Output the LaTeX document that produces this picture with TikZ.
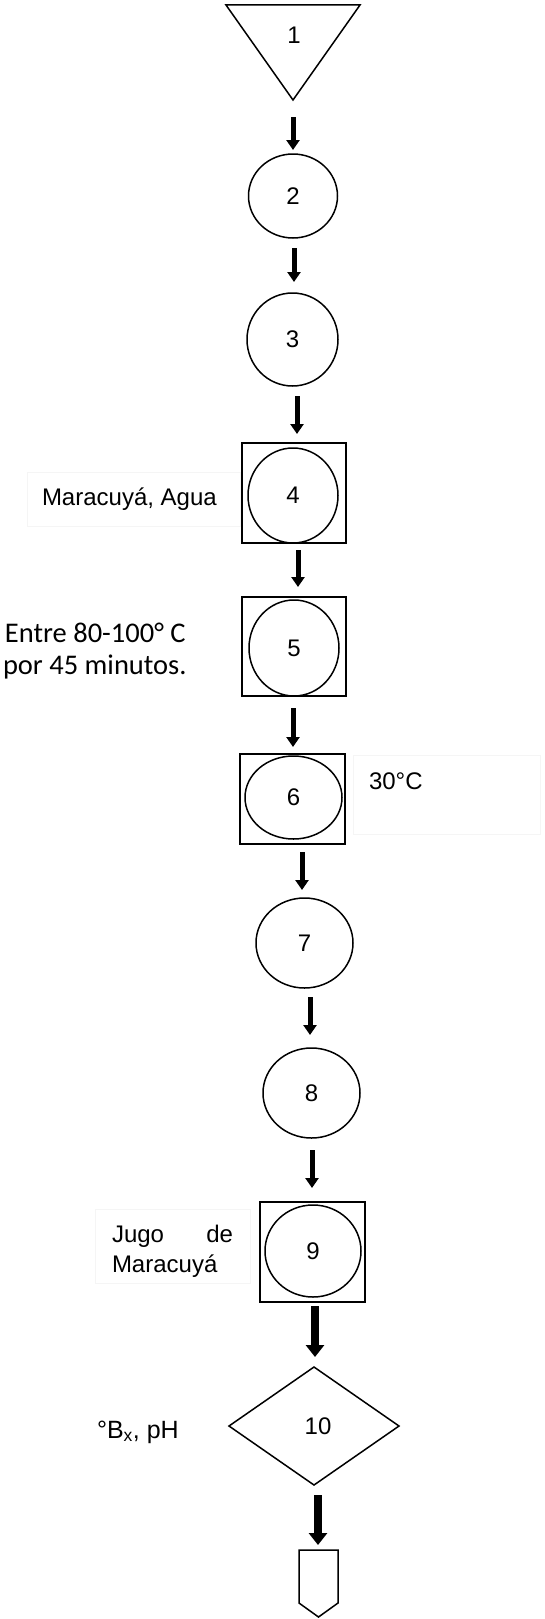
\documentclass[tikz,border=0pt]{standalone}
\usepackage{fontspec}
\setmainfont{Liberation Sans}
\newfontfamily\carlito{Carlito}
\usetikzlibrary{shapes.geometric,arrows.meta}
\begin{document}
\begin{tikzpicture}[x=1pt,y=-1pt,
  every node/.style={font=\fontsize{24}{28}\selectfont},
  oval/.style={ellipse,draw,line width=1.5pt,inner sep=0pt,outer sep=0pt},
  opbox/.style={rectangle,draw,line width=1.5pt,inner sep=0pt,outer sep=0pt},
  note/.style={inner sep=0pt,outer sep=0pt,anchor=base west},
  faint/.style={draw=black!4,line width=0.8pt},
  arr/.style={line width=5pt,-{Triangle[width=13pt,length=10pt]}},
  bigarr/.style={line width=8pt,-{Triangle[width=18pt,length=12pt]}}]
\useasboundingbox (0,0) rectangle (545,1619);

% storage triangle
\draw[line width=1.5pt,line join=miter] (226,5) -- (360,5) -- (293,100) -- cycle;
\coordinate (t1) at (293,100);
\node (n1) at (294,35) {1};

% plain operations
\node[oval,minimum width=89pt,minimum height=84pt] (n2) at (293,196) {2};
\node[oval,minimum width=91pt,minimum height=93pt] (n3) at (292.5,339.5) {3};

% combined operations (circle inside square)
\node[opbox,minimum width=104pt,minimum height=100pt] (b4) at (294,493) {};
\node[oval,minimum width=90pt,minimum height=95pt] (n4) at (293,495.5) {4};
\node[opbox,minimum width=104pt,minimum height=99pt] (b5) at (294,646.5) {};
\node[oval,minimum width=90pt,minimum height=96pt] (n5) at (294,648) {5};
\node[opbox,minimum width=105pt,minimum height=90pt] (b6) at (292.5,799) {};
\node[oval,minimum width=97pt,minimum height=83pt] (n6) at (293.5,797.5) {6};

\node[oval,minimum width=97pt,minimum height=90pt] (n7) at (304.5,943) {7};
\node[oval,minimum width=97pt,minimum height=90pt] (n8) at (311.5,1093) {8};

\node[opbox,minimum width=105pt,minimum height=100pt] (b9) at (312.5,1252) {};
\node[oval,minimum width=96pt,minimum height=92pt] (n9) at (313,1251) {9};

% inspection
\node[diamond,draw,line width=1.5pt,inner sep=0pt,outer sep=0pt,
      minimum width=170pt,minimum height=118pt] (n10) at (314,1426) {\hspace*{8pt}10};

% off-page connector
\draw[line width=1.5pt] (299,1550) -- (338,1550) -- (338,1603) -- (318.5,1617)
  -- (299,1603) -- cycle;
\coordinate (e1) at (318.5,1550);

% side notes
\draw[faint] (27,472) rectangle (240,526);
\node[note] (m4) at (42,505) {Maracuyá, Agua};
\node[note,font=\carlito\fontsize{28.5}{34}\selectfont] (t5a) at (5,642) {Entre 80-100° C};
\node[note,font=\carlito\fontsize{28.5}{34}\selectfont] (t5b) at (3,674) {por 45 minutos.};
\draw[faint] (353,755) rectangle (540,834);
\node[note] (t6) at (369,789) {30°C};
\draw[faint] (95,1209) rectangle (250,1283);
\node[note] (j9a) at (112,1242) {\makebox[121pt][l]{Jugo\hfill de}};
\node[note] (j9b) at (112,1272) {Maracuyá};
\node[note,font=\fontsize{25}{29}\selectfont] (q10) at (97,1438) {°B\textsubscript{x}, pH};

% flow arrows
\draw[arr] ([yshift=-17pt]t1) -- ([yshift=4pt]n2.north);
\draw[arr] ([xshift=1pt,yshift=-10pt]n2.south) -- ([xshift=1.5pt,yshift=11pt]n3.north);
\draw[arr] ([xshift=4.5pt,yshift=-10pt]n3.south) -- ([xshift=3pt,yshift=9pt]b4.north);
\draw[arr] ([xshift=4pt,yshift=-7pt]b4.south) -- ([xshift=4pt,yshift=10pt]b5.north);
\draw[arr] ([xshift=-1pt,yshift=-12pt]b5.south) -- ([xshift=0.5pt,yshift=7pt]b6.north);
\draw[arr] ([xshift=9.5pt,yshift=-8pt]b6.south) -- ([xshift=-2.5pt,yshift=8pt]n7.north);
\draw[arr] ([xshift=5.5pt,yshift=-9pt]n7.south) -- ([xshift=-1.5pt,yshift=13pt]n8.north);
\draw[arr] ([xshift=0.5pt,yshift=-12pt]n8.south) -- ([xshift=-0.5pt,yshift=14pt]b9.north);
\draw[bigarr] ([xshift=2.5pt,yshift=-4pt]b9.south) -- ([xshift=1pt,yshift=10pt]n10.north);
\draw[bigarr] ([xshift=4pt,yshift=-10pt]n10.south) -- ([xshift=-0.5pt,yshift=5pt]e1);
\end{tikzpicture}
\end{document}
